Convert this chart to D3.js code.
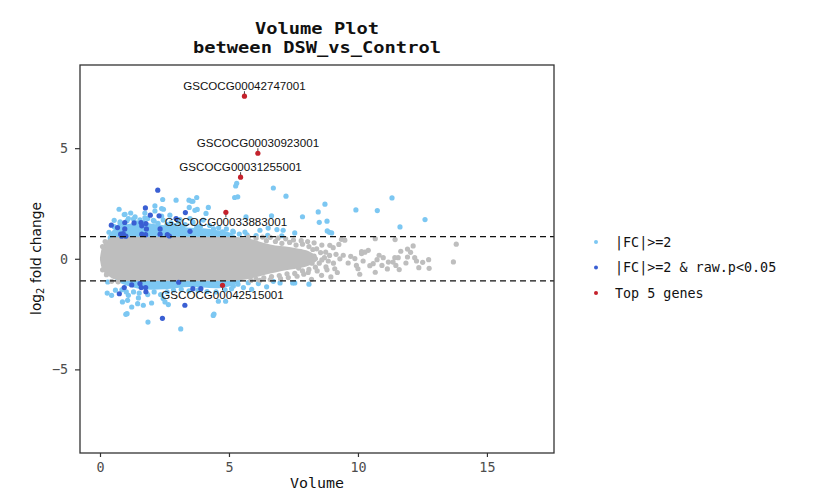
<!DOCTYPE html>
<html>
<head>
<meta charset="utf-8">
<style>
  html, body { margin: 0; padding: 0; background: #fff; }
  svg { display: block; }
</style>
<script src="https://cdn.jsdelivr.net/npm/d3@7"></script>
</head>
<body>
<div id="chart"></div>
<script>
// the crowded middle of each group cannot be read point by point: outlines of it
var grayMassX = [0, 0.05, 0.15, 0.3, 0.5, 1, 2, 3, 4, 5, 5.6, 6, 6.4, 6.8, 7.2, 7.6, 8, 8.3, 8.45];
var grayMassTop = [0.05, 0.4, 0.65, 0.85, 0.97, 1, 1, 1, 1, 1, 0.95, 0.85, 0.7, 0.6, 0.55, 0.48, 0.38, 0.2, 0.05];
var grayMassBottom = [-0.05, -0.35, -0.6, -0.75, -0.9, -1, -1, -1, -1, -1, -0.95, -0.85, -0.72, -0.62, -0.52, -0.45, -0.35, -0.18, -0.05];

var upperBandX = [0.3, 0.5, 0.8, 1.2, 1.6, 2, 2.5, 3, 3.5, 4, 4.5, 5, 5.3];
var upperBandTop = [1, 1.3, 1.48, 1.6, 1.65, 1.58, 1.52, 1.48, 1.4, 1.38, 1.3, 1.2, 1];
var lowerBandX = [0.6, 1, 1.5, 2, 2.5, 3, 3.5, 4, 4.5, 5, 5.5];
var lowerBandBottom = [-1, -1.2, -1.35, -1.4, -1.38, -1.32, -1.28, -1.3, -1.33, -1.25, -1];

var grayPoints = [
  [13.81, 0.66], [13.7, -0.14], [12.76, -0.43], [12.74, -0.04], [12.51, -0.16], [12.36, -0.4],
  [12.2, 0.05], [12.27, -0.1], [12.14, 0.58], [12.04, 0.29], [11.92, 0.44], [11.92, 0.08],
  [11.86, -0.19], [11.66, 0.34], [11.6, -0.49], [11.56, 0.05], [11.43, 0.05], [11.47, -0.3],
  [11.36, -0.15], [11.18, -0.15], [11.14, -0.46], [10.93, -0.3], [10.98, 0.05], [10.82, 0.16],
  [10.74, -0.04], [10.67, -0.61], [10.59, -0.22], [10.46, -0.31], [10.4, 0.38], [10.27, 0.3],
  [10.14, 0.33], [10.14, 0.23], [10.2, -0.1], [10.07, -0.7], [10, -0.45], [9.94, -0.3],
  [9.88, 0.01], [9.72, 0.11], [9.62, -0.19], [9.49, 0.84], [9.36, 0.88], [8.95, -0.82],
  [8.91, 0.61], [9.04, 0.5], [9.26, 0.65], [9.43, 0.16], [9.3, 0], [9.1, -0.45], [8.76, -0.37],
  [8.59, -0.75], [8.2, -0.93], [8.07, -0.62], [7.64, -0.79], [8.42, -0.55], [10.67, 0.91],
  [11.44, 0.87], [8.6, 0.62], [8.75, 0.3], [8.85, -0.1], [8.5, -0.2], [8.4, 0.45], [8.9, 0.15],
  [9.05, -0.2], [9.15, 0.2], [8.7, 0.05], [8.3, 0.72], [8.05, 0.78], [7.8, 0.82], [7.5, 0.85],
  [7.2, 0.9], [6.9, 0.93], [6.6, 0.97], [6.3, 0.98], [7.9, -0.7], [7.3, -0.85], [7, -0.9], [6.6, -0.94],
  [6.2, -0.97], [0.1, 0.55], [0.2, 0.78], [0.1, -0.5], [0.25, -0.72], [0.45, -1.02], [0.7, -1.04],
  // ragged edge of the mass on the right
  [6.05, 0.93], [6.45, 0.82], [6.8, 0.78], [7.05, 0.7], [7.35, 0.74], [7.6, 0.62], [7.85, 0.66],
  [8.1, 0.55], [8.25, 0.42], [8.55, 0.28], [8.6, -0.05], [8.35, -0.38], [8.1, -0.48], [7.85, -0.55],
  [7.55, -0.66], [7.25, -0.68], [6.95, -0.76], [6.65, -0.8], [6.35, -0.86], [6.05, -0.92],
  [5.75, 0.98], [5.85, -0.98], [7.7, -0.42], [8.22, -0.2], [8.3, 0.12], [8.8, -0.5], [9.2, -0.62]
];

var lightPoints = [
  // above the upper line
  [0.74, 2.24], [0.55, 1.74], [0.94, 2], [1.19, 2.07], [1.74, 2.07], [2.13, 2.39], [2.43, 2.68],
  [2.95, 2.65], [3.45, 2.65], [3.6, 2.6], [2.39, 2.27], [2.71, 1.97], [2.39, 1.93], [1.36, 1.89],
  [1.1, 1.82], [0.78, 1.67], [1.74, 1.85], [2.07, 1.74], [3.1, 1.77], [3.49, 1.82], [3.6, 1.67],
  [0.97, 2.01], [3.46, 2.32], [3.68, 2.19], [3.77, 2.23], [4.2, 2.32], [4.11, 2.05], [2.13, 2.16],
  [2.46, 2.24], [3.75, 2.77], [3.55, 2.6], [5.26, 3.29], [5.3, 3.41], [5.34, 2.8], [5.22, 2.77],
  [6.72, 3.2], [7.21, 2.83], [5.66, 1.89], [6.65, 1.94], [7.85, 1.9], [8.46, 2.12],
  [8.72, 2.47], [8.5, 1.65], [8.8, 1.7], [9.92, 2.21], [10.75, 2.18], [11.32, 2.75], [11.63, 1.44],
  [12.6, 1.77], [8.81, 1.26], [8.89, 1.2], [8.98, 1.17], [7.55, 1.17], [6.86, 1.32], [6.52, 1.39],
  [7.1, 1.29], [6.2, 1.29], [5.62, 1.21], [5.17, 1.21], [4, 1.75],
  // top edge of the upper band
  [0.35, 1.2], [0.55, 1.45], [0.78, 1.6], [1.05, 1.72], [1.3, 1.8], [1.55, 1.76], [1.85, 1.82],
  [2.1, 1.7], [2.45, 1.75], [2.75, 1.62], [3.05, 1.66], [3.3, 1.55], [3.6, 1.62], [3.9, 1.48],
  [4.25, 1.5], [4.6, 1.4], [4.9, 1.35], [5.15, 1.25], [5.4, 1.12], [5.7, 1.08], [6.05, 1.05],
  [0.45, 1.05], [0.65, 1.3], [0.95, 1.52], [1.4, 1.62], [1.7, 1.65], [2.25, 1.6], [2.6, 1.55],
  [2.9, 1.5], [3.2, 1.45], [3.75, 1.42], [4.4, 1.35], [4.75, 1.22], [6.5, 1.06], [7.05, 1.04],
  // below the lower line
  [0.28, -1.55], [0.45, -1.65], [0.6, -1.42], [0.87, -1.95], [1.07, -1.88], [1.23, -2.18],
  [1.46, -2.03], [1.68, -2.1], [2, -2], [1.1, -1.65], [1.49, -1.77], [2.45, -1.8], [2.65, -2.07],
  [2.52, -1.95], [1, -2.51], [1.05, -2.48], [1.86, -2.86], [3.13, -3.17], [4.39, -2.56],
  [4.42, -2.5], [4.59, -1.92], [4.87, -1.92], [5.88, -1.38], [6.46, -1.27], [6.14, -1.12],
  [5.17, -1.23], [5.56, -1.3], [6.72, -1.02], [6.98, -1.09], [8.1, -1.15], [7.47, -1.09],
  [7.55, -1.09], [0.3, -1.05], [0.85, -1.4], [1.02, -1.5], [1.3, -1.5], [1.52, -1.55], [1.85, -1.62],
  [2.1, -1.5], [2.35, -1.62], [2.6, -1.5], [2.85, -1.42], [3.15, -1.38], [3.45, -1.45], [3.8, -1.42],
  [4.15, -1.48], [4.5, -1.5], [4.85, -1.4], [5.1, -1.35], [5.35, -1.15], [5.75, -1.08]
];

var darkPoints = [
  [2.24, 3.1], [1.76, 2.3], [1.95, 1.97], [2.29, 1.94], [3.31, 2.09], [2.95, 1.82], [0.44, 1.52],
  [0.68, 1.41], [0.96, 1.64], [1.32, 1.62], [1.59, 1.64], [1.78, 1.59], [1.62, 1.49], [1.8, 1.35],
  [2.33, 1.35], [3.49, 1.24], [0.96, 1.35], [0.8, 1.11], [0.9, 1.14], [1, 1.02], [1.62, 1.11],
  [1.77, 1.09], [2.33, 1.11], [2.61, 1.09], [2.69, 1.03], [0.84, 1.02],
  [1.23, -1.18], [1.55, -1.12], [3.05, -1.06], [0.94, -1.3], [1.6, -1.3], [1.77, -1.3], [1.78, -1.49],
  [0.75, -1.58], [3.6, -1.35], [3.91, -1.35], [3.29, -2.1], [2.42, -2.69]
];

var topGenes = ['GSCOCG00042747001', 'GSCOCG00030923001', 'GSCOCG00031255001', 'GSCOCG00033883001', 'GSCOCG00042515001'];
var topVolume = [5.6, 6.12, 5.45, 4.88, 4.75];
var topFold = [7.35, 4.77, 3.69, 2.1, -1.2];
var labelSide = [-1, -1, -1, 1, 1];

var xTicks = [0, 5, 10, 15];
var yTicks = [-5, 0, 5];
var cutoffs = [-1, 1];
var legendLabels = ['|FC|>=2', '|FC|>=2 & raw.p<0.05', 'Top 5 genes'];
var titleLines = ['Volume Plot', 'between DSW_vs_Control'];

var GRAY = '#bebebe', LIGHT = '#7cc7f2', DARK = '#3a5fd3', RED = '#c4222c';
var MONO = '"DejaVu Sans Mono", monospace';
var POINT_R = 2.6;

var svg = d3.select('#chart').append('svg')
  .attr('width', 817)
  .attr('height', 500);

var x = d3.scaleLinear().domain([-0.775, 17.6]).range([80, 554]);
var y = d3.scaleLinear().domain([-8.78, 8.76]).range([453, 65]);

svg.selectAll('.title')
  .data(titleLines)
  .enter()
  .append('text')
  .attr('class', 'title')
  .text(function (d) { return d; })
  .attr('x', 317)
  .attr('y', function (d, i) { return 34 + i * 19; })
  .attr('text-anchor', 'middle')
  .attr('font-family', MONO)
  .attr('font-weight', 'bold')
  .attr('font-size', '16.5px')
  .attr('textLength', function (d) { return d.length * 11.27; })
  .attr('lengthAdjust', 'spacingAndGlyphs')
  .attr('fill', '#111');

function zipOutline(xs, tops, bottoms) {
  return xs.map(function (v, i) {
    return { x: v, top: tops[i], bottom: bottoms[i] };
  });
}

var area = d3.area()
  .x(function (d) { return x(d.x); })
  .y0(function (d) { return y(d.bottom); })
  .y1(function (d) { return y(d.top); })
  .curve(d3.curveMonotoneX);

svg.append('path')
  .attr('d', area(zipOutline(upperBandX, upperBandTop, upperBandX.map(function () { return 0.8; }))))
  .attr('fill', LIGHT);
svg.append('path')
  .attr('d', area(zipOutline(lowerBandX, lowerBandX.map(function () { return -0.8; }), lowerBandBottom)))
  .attr('fill', LIGHT);

function drawPoints(name, data, color) {
  svg.selectAll('.' + name)
    .data(data)
    .enter()
    .append('circle')
    .attr('class', name)
    .attr('cx', function (d) { return x(d[0]); })
    .attr('cy', function (d) { return y(d[1]); })
    .attr('r', POINT_R)
    .attr('fill', color);
}

drawPoints('light', lightPoints, LIGHT);

svg.append('path')
  .attr('d', area(zipOutline(grayMassX, grayMassTop, grayMassBottom)))
  .attr('fill', GRAY);
drawPoints('gray', grayPoints, GRAY);
drawPoints('dark', darkPoints, DARK);

svg.selectAll('.cutoff')
  .data(cutoffs)
  .enter()
  .append('line')
  .attr('class', 'cutoff')
  .attr('x1', 80)
  .attr('x2', 554)
  .attr('y1', function (d) { return y(d); })
  .attr('y2', function (d) { return y(d); })
  .attr('stroke', '#111')
  .attr('stroke-width', 1.3)
  .attr('stroke-dasharray', '6,4');

// top genes: short leader, red dot, name
svg.selectAll('.leader')
  .data(topGenes)
  .enter()
  .append('line')
  .attr('class', 'leader')
  .attr('x1', function (d, i) { return x(topVolume[i]); })
  .attr('x2', function (d, i) { return x(topVolume[i]); })
  .attr('y1', function (d, i) { return y(topFold[i]); })
  .attr('y2', function (d, i) { return y(topFold[i]) + labelSide[i] * 5; })
  .attr('stroke', '#444')
  .attr('stroke-width', 1);

svg.selectAll('.top')
  .data(topGenes)
  .enter()
  .append('circle')
  .attr('class', 'top')
  .attr('cx', function (d, i) { return x(topVolume[i]); })
  .attr('cy', function (d, i) { return y(topFold[i]); })
  .attr('r', POINT_R)
  .attr('fill', RED);

svg.selectAll('.gene')
  .data(topGenes)
  .enter()
  .append('text')
  .attr('class', 'gene')
  .text(function (d) { return d; })
  .attr('x', function (d, i) { return x(topVolume[i]); })
  .attr('y', function (d, i) { return y(topFold[i]) + labelSide[i] * 10 + 4; })
  .attr('text-anchor', 'middle')
  .attr('font-family', '"Liberation Sans", Arial, sans-serif')
  .attr('font-size', '11.6px')
  .attr('fill', '#111');

svg.append('rect')
  .attr('x', 80)
  .attr('y', 65)
  .attr('width', 474)
  .attr('height', 388)
  .attr('fill', 'none')
  .attr('stroke', '#333')
  .attr('stroke-width', 1.3);

var xAxis = svg.append('g')
  .attr('transform', 'translate(0,453)')
  .call(d3.axisBottom(x).tickValues(xTicks).tickFormat(d3.format('d')).tickSize(4).tickPadding(5));
var yAxis = svg.append('g')
  .attr('transform', 'translate(80,0)')
  .call(d3.axisLeft(y).tickValues(yTicks).tickFormat(d3.format('d')).tickSize(5).tickPadding(7));

[xAxis, yAxis].forEach(function (axis) {
  axis.select('.domain').remove();
  axis.selectAll('.tick line').attr('stroke', '#333').attr('stroke-width', 1.2);
  axis.selectAll('.tick text')
    .attr('font-family', MONO)
    .attr('font-size', '13.4px')
    .attr('fill', '#4d4d4d');
});

svg.append('text')
  .text('Volume')
  .attr('x', 317)
  .attr('y', 488)
  .attr('text-anchor', 'middle')
  .attr('font-family', MONO)
  .attr('font-size', '14px')
  .attr('textLength', 54)
  .attr('lengthAdjust', 'spacingAndGlyphs')
  .attr('fill', '#111');

var yTitle = svg.append('text')
  .attr('transform', 'translate(41,258.5) rotate(-90)')
  .attr('text-anchor', 'middle')
  .attr('font-family', '"DejaVu Sans", sans-serif')
  .attr('font-size', '13.8px')
  .attr('fill', '#111');
yTitle.append('tspan').text('log');
yTitle.append('tspan').text('2').attr('font-size', '10px').attr('dy', 3);
yTitle.append('tspan').text(' fold change').attr('dy', -3);

var legendColors = [LIGHT, DARK, RED];
var legend = svg.selectAll('.legend')
  .data(legendLabels)
  .enter()
  .append('g')
  .attr('class', 'legend')
  .attr('transform', function (d, i) { return 'translate(596,' + (242 + i * 25.5) + ')'; });

legend.append('circle')
  .attr('r', 2)
  .attr('fill', function (d, i) { return legendColors[i]; });

legend.append('text')
  .text(function (d) { return d; })
  .attr('x', 19)
  .attr('y', 4.5)
  .attr('font-family', MONO)
  .attr('font-size', '13.4px')
  .attr('fill', '#111');
</script>
</body>
</html>
